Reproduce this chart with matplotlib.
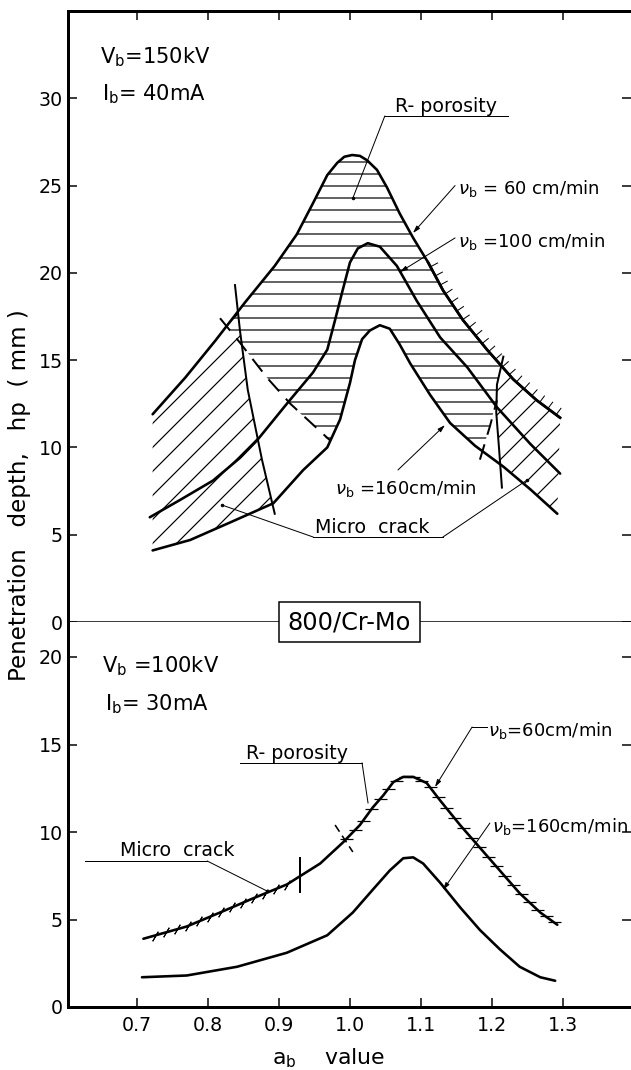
import numpy as np
import matplotlib
matplotlib.use('Agg')
import matplotlib.pyplot as plt
from matplotlib.patches import Polygon
import matplotlib.patheffects as pe

plt.rcParams['font.family'] = ['DejaVu Sans']
plt.rcParams['mathtext.fontset'] = 'dejavusans'
plt.rcParams['hatch.linewidth'] = 1.2

# ---------------- upper panel: Vb=150kV, Ib=40mA ----------------
x60 = [0.722, 0.768, 0.810, 0.852, 0.894, 0.925, 0.948, 0.968, 0.982, 0.992, 1.003, 1.014,
       1.024, 1.038, 1.052, 1.070, 1.089, 1.110, 1.131, 1.159, 1.193, 1.230, 1.263, 1.296]
y60 = [11.9, 14.0, 16.1, 18.3, 20.4, 22.2, 24.0, 25.6, 26.3, 26.65, 26.75, 26.7,
       26.45, 25.9, 24.9, 23.4, 22.0, 20.6, 19.0, 17.3, 15.6, 13.9, 12.7, 11.7]

x100 = [0.718, 0.761, 0.807, 0.845, 0.869, 0.911, 0.948, 0.968, 0.979, 0.989, 1.000,
        1.011, 1.025, 1.042, 1.066, 1.094, 1.127, 1.165, 1.207, 1.254, 1.296]
y100 = [6.0, 7.0, 8.1, 9.4, 10.4, 12.5, 14.3, 15.6, 17.3, 18.9, 20.6,
        21.4, 21.7, 21.5, 20.4, 18.4, 16.3, 14.6, 12.3, 10.2, 8.5]

x160 = [0.722, 0.775, 0.831, 0.892, 0.934, 0.968, 0.986, 1.000, 1.007, 1.017, 1.028,
        1.042, 1.056, 1.070, 1.085, 1.113, 1.141, 1.176, 1.216, 1.254, 1.292]
y160 = [4.1, 4.7, 5.7, 6.8, 8.7, 10.0, 11.6, 13.7, 15.0, 16.2, 16.7,
        17.0, 16.8, 15.9, 14.8, 13.0, 11.4, 10.1, 8.9, 7.6, 6.2]

# zone boundary lines
crack_l_x = [0.838, 0.845, 0.856, 0.876, 0.894]
crack_l_y = [19.3, 16.7, 13.3, 9.3, 6.2]
dash_l_x = [0.817, 0.845, 0.883, 0.916, 0.972]
dash_l_y = [17.4, 16.0, 14.0, 12.5, 10.4]
crack_r_x = [1.216, 1.207, 1.206, 1.210, 1.214]
crack_r_y = [15.2, 13.6, 12.0, 9.9, 7.7]
dash_r_x = [1.183, 1.197, 1.207]
dash_r_y = [9.3, 11.2, 12.7]

# zone outlines
rpor_x = [0.826, 0.852, 0.894, 0.925, 0.948, 0.968, 0.982, 0.992, 1.003, 1.014, 1.024,
          1.038, 1.052, 1.070, 1.089, 1.110, 1.131, 1.159, 1.193, 1.213, 1.207, 1.206,
          1.197, 1.186, 1.176, 1.141, 1.113, 1.085, 1.070, 1.056, 1.042, 1.028, 1.017,
          1.007, 1.000, 0.986, 0.972, 0.916, 0.883, 0.845]
rpor_y = [17.0, 18.3, 20.4, 22.2, 24.0, 25.6, 26.3, 26.65, 26.75, 26.7, 26.45,
          25.9, 24.9, 23.4, 22.0, 20.6, 19.0, 17.3, 15.6, 14.7, 13.6, 12.7,
          11.2, 9.75, 10.1, 11.4, 13.0, 14.8, 15.9, 16.8, 17.0, 16.7, 16.2,
          15.0, 13.7, 11.6, 10.3, 12.5, 14.0, 16.0]
crackl_zone_x = [0.722, 0.768, 0.810, 0.841, 0.845, 0.856, 0.876, 0.891, 0.831, 0.775, 0.722]
crackl_zone_y = [11.9, 14.0, 16.1, 17.8, 16.7, 13.3, 9.3, 6.8, 5.7, 4.7, 4.1]
crackr_zone_x = [1.213, 1.230, 1.263, 1.296, 1.292, 1.254, 1.216, 1.212, 1.210, 1.206, 1.207]
crackr_zone_y = [14.7, 13.9, 12.7, 11.7, 6.2, 7.6, 8.9, 8.95, 9.9, 12.0, 13.6]

# ---------------- lower panel: Vb=100kV, Ib=30mA ----------------
xb60 = [0.709, 0.770, 0.817, 0.863, 0.911, 0.958, 0.990, 1.014, 1.032, 1.047, 1.061,
        1.075, 1.089, 1.108, 1.127, 1.155, 1.183, 1.211, 1.239, 1.268, 1.292]
yb60 = [3.9, 4.6, 5.4, 6.2, 7.0, 8.2, 9.4, 10.4, 11.4, 12.1, 12.85,
        13.15, 13.15, 12.8, 11.8, 10.4, 9.1, 7.8, 6.5, 5.4, 4.7]
xb160 = [0.707, 0.770, 0.841, 0.911, 0.968, 1.004, 1.032, 1.056, 1.075, 1.089, 1.103,
         1.127, 1.155, 1.183, 1.211, 1.239, 1.268, 1.289]
yb160 = [1.7, 1.8, 2.3, 3.1, 4.1, 5.4, 6.7, 7.8, 8.5, 8.55, 8.2,
         7.1, 5.7, 4.4, 3.3, 2.3, 1.7, 1.5]

xticks = [0.7, 0.8, 0.9, 1.0, 1.1, 1.2, 1.3]
xticklabels = ['0.7', '0.8', '0.9', '1.0', '1.1', '1.2', '1.3']
top_yticks = [0, 5, 10, 15, 20, 25, 30]
bot_yticks = [0, 5, 10, 15, 20]

DPI = 72
fig = plt.figure(figsize=(631 / DPI, 1070 / DPI), dpi=DPI)
ax1 = fig.add_axes([68 / 631, 448 / 1070, 563 / 631, 611 / 1070])
ax2 = fig.add_axes([68 / 631, 63 / 1070, 563 / 631, 385 / 1070])

for ax in (ax1, ax2):
    ax.set_xlim(0.6028, 1.3958)
    ax.set_xticks(xticks)
    ax.tick_params(direction='in', length=9, width=1.5, labelsize=19, right=True)
    ax.tick_params(axis='y', pad=5)
    ax.tick_params(axis='x', pad=9)
    ax.spines['right'].set_visible(False)
    ax.spines['left'].set_linewidth(3)

ax1.set_ylim(0, 35)
ax1.set_yticks(top_yticks)
ax1.tick_params(top=True, bottom=False, labelbottom=False)
ax1.spines['top'].set_linewidth(3)
ax1.spines['bottom'].set_linewidth(1.5)

ax2.set_ylim(0, 22)
ax2.set_yticks(bot_yticks)
ax2.set_xticklabels(xticklabels)
ax2.tick_params(top=False)
ax2.spines['top'].set_visible(False)
ax2.spines['bottom'].set_linewidth(3)

curve = dict(color='k', lw=2.6, solid_capstyle='round', solid_joinstyle='round')
thin = dict(color='k', lw=1.0)

# hatched zones
ax1.add_patch(Polygon(np.column_stack([rpor_x, rpor_y]), closed=True, fill=False,
                      hatch='-', edgecolor='k', lw=0))
for zx, zy in ((crackl_zone_x, crackl_zone_y), (crackr_zone_x, crackr_zone_y)):
    ax1.add_patch(Polygon(np.column_stack([zx, zy]), closed=True, fill=False,
                          hatch='/', edgecolor='k', lw=0))

ax1.plot(x60, y60, **curve)
ax1.plot(x100, y100, **curve)
ax1.plot(x160, y160, **curve)
# ticked outer edge of the crack zone on the right
ax1.plot(x60[17:], y60[17:], color='k', lw=2.6,
         path_effects=[pe.withTickedStroke(angle=90, spacing=10, length=0.8, linewidth=1.0)])
ax1.plot(crack_l_x, crack_l_y, color='k', lw=2.0)
ax1.plot(crack_r_x, crack_r_y, color='k', lw=2.0)
ax1.plot(dash_l_x, dash_l_y, color='k', lw=2.0, dashes=(8, 5))
ax1.plot(dash_r_x, dash_r_y, color='k', lw=2.0, dashes=(8, 5))

arrow = dict(arrowstyle='-|>,head_length=0.6,head_width=0.18', color='k', lw=1.0,
             shrinkA=0, shrinkB=0)
fs = 18
nu = r'$\nu_\mathrm{b}$'

ax1.text(0.648, 32.0, r'V$_\mathrm{b}$=150kV', fontsize=21, va='baseline')
ax1.text(0.651, 29.9, r'I$_\mathrm{b}$= 40mA', fontsize=21, va='baseline')

ax1.text(1.064, 29.2, 'R- porosity', fontsize=19, va='baseline')
ax1.plot([1.049, 1.2225], [28.98, 28.98], **thin)
ax1.plot([1.049, 1.004], [28.98, 24.28], **thin)
ax1.plot([1.004], [24.28], 'ko', ms=2.5)

ax1.text(1.152, 24.5, nu + ' = 60 cm/min', fontsize=fs, va='baseline')
ax1.annotate('', xy=(1.0887, 22.28), xytext=(1.148, 25.0), arrowprops=arrow)
ax1.text(1.152, 21.5, nu + ' =100 cm/min', fontsize=fs, va='baseline')
ax1.annotate('', xy=(1.0704, 20.05), xytext=(1.148, 22.0), arrowprops=arrow)
ax1.text(0.979, 7.33, nu + ' =160cm/min', fontsize=fs, va='baseline')
ax1.annotate('', xy=(1.1338, 11.28), xytext=(1.0676, 8.71), arrowprops=arrow)

ax1.text(0.951, 5.1, 'Micro  crack', fontsize=19, va='baseline')
ax1.plot([0.948, 1.131], [4.87, 4.87], **thin)
ax1.plot([0.948, 0.8197], [4.87, 6.70], **thin)
ax1.plot([1.131, 1.2493], [4.87, 8.13], **thin)
ax1.plot([0.8197, 1.2493], [6.70, 8.13], 'ko', ms=2.5)

# lower panel curves
ax2.plot(xb60, yb60, **curve)
ax2.plot(xb160, yb160, **curve)

# micro crack ticks and R-porosity hatching along the 60 cm/min curve
mc_x = np.arange(0.725, 0.925, 0.0155)
ax2.plot(mc_x, np.interp(mc_x, xb60, yb60), ls='none', color='k',
         marker=(2, 2, -30), ms=11, mew=1.0)
rp_x = np.arange(0.995, 1.29, 0.0117)
ax2.plot(rp_x, np.interp(rp_x, xb60, yb60), ls='none', color='k',
         marker='_', ms=13, mew=1.2)
ax2.plot([0.9296, 0.9296], [6.57, 8.51], color='k', lw=2.0)
ax2.plot([0.979, 1.004], [10.4, 8.86], color='k', lw=1.6, dashes=(5, 3))

ax2.text(0.651, 19.14, r'V$_\mathrm{b}$ =100kV', fontsize=21, va='baseline')
ax2.text(0.655, 16.97, r'I$_\mathrm{b}$= 30mA', fontsize=21, va='baseline')

ax2.text(0.676, 8.6, 'Micro  crack', fontsize=19, va='baseline')
ax2.plot([0.627, 0.799], [8.34, 8.34], **thin)
ax2.plot([0.799, 0.883], [8.34, 6.63], **thin)
ax2.plot([0.883], [6.63], 'ko', ms=2.5)

ax2.text(0.853, 14.15, 'R- porosity', fontsize=19, va='baseline')
ax2.plot([0.845, 1.017], [13.94, 13.94], **thin)
ax2.plot([1.017, 1.0254], [13.94, 11.66], **thin)

ax2.text(1.194, 15.5, nu + '=60cm/min', fontsize=fs, va='baseline')
ax2.plot([1.172, 1.193], [16.0, 16.0], **thin)
ax2.annotate('', xy=(1.1197, 12.57), xytext=(1.172, 16.0), arrowprops=arrow)
ax2.text(1.200, 10.0, nu + '=160cm/min', fontsize=fs, va='baseline')
ax2.annotate('', xy=(1.131, 6.69), xytext=(1.197, 10.51), arrowprops=arrow)

# material box on the panel separator
fig.text(349.5 / 631, 1 - 622 / 1070, '800/Cr-Mo', fontsize=24, ha='center', va='center',
         zorder=10, bbox=dict(boxstyle='square,pad=0.35', fc='white', ec='k', lw=1.5))

fig.text(20 / 631, 1 - 495 / 1070, 'Penetration   depth,   hp  ( mm )', rotation=90,
         ha='center', va='center', fontsize=23)
fig.text(328 / 631, 6 / 1070, r'a$_\mathrm{b}$    value', ha='center', va='baseline',
         fontsize=22)

fig.savefig('out.png', dpi=DPI)
